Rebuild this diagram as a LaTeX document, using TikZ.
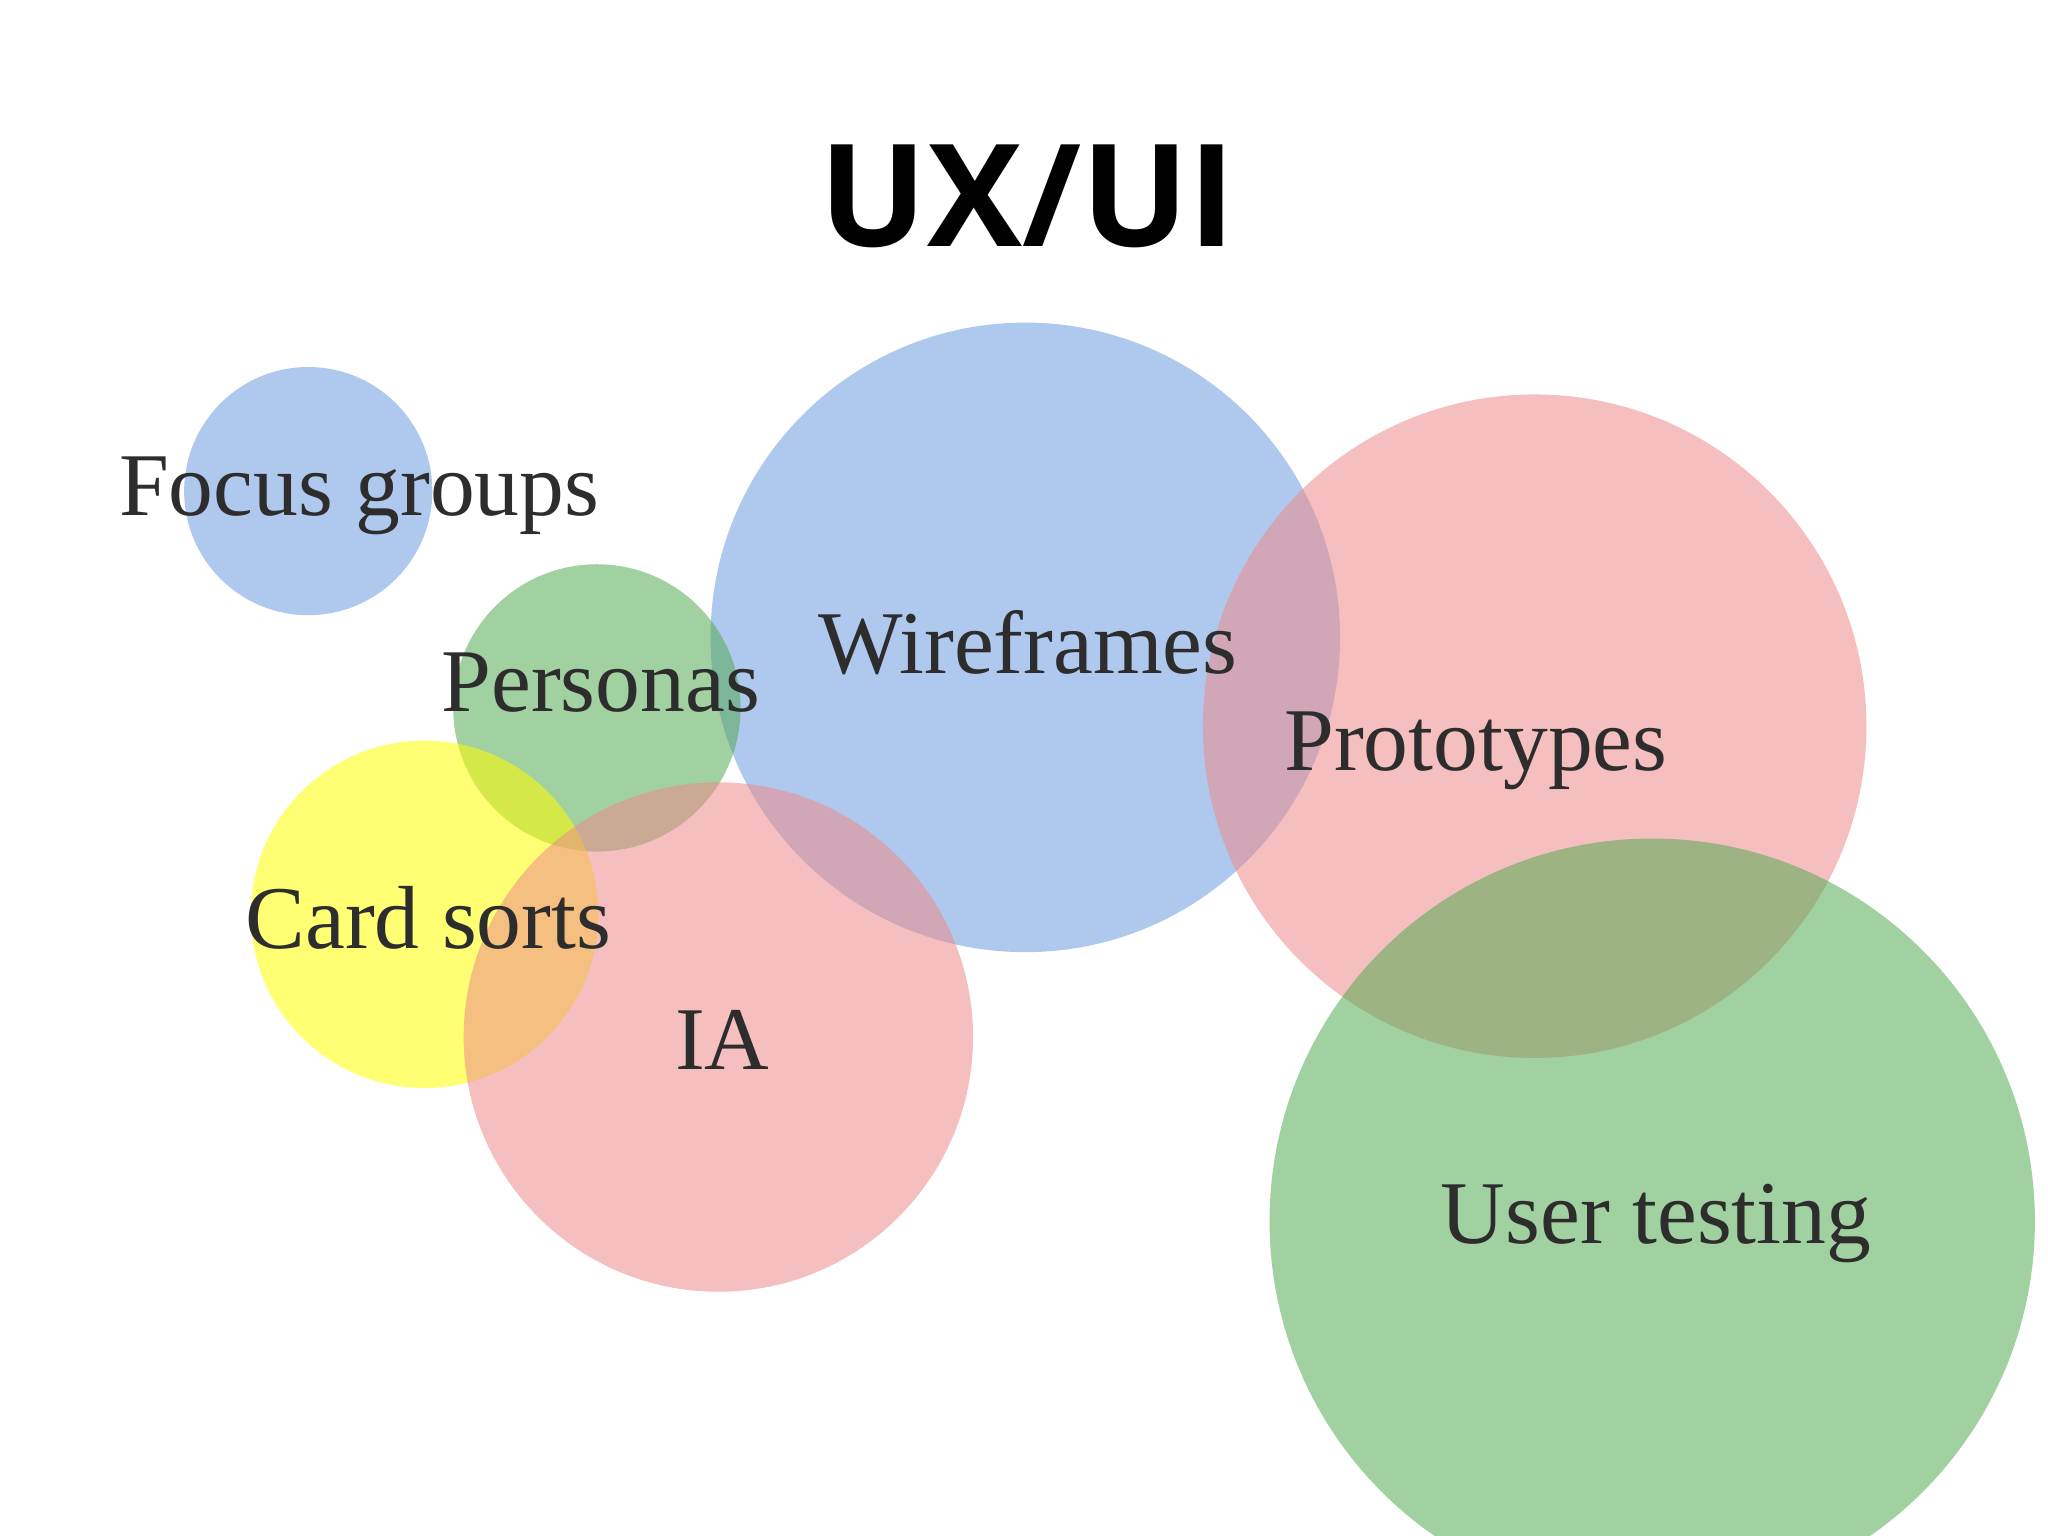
\documentclass[tikz,border=0pt]{standalone}
\usepackage{fontspec}
\setmainfont{Liberation Serif}
\newfontfamily\titlefont{Open Sans}
\definecolor{cblue}{RGB}{110,155,225}
\definecolor{cpink}{RGB}{238,140,140}
\definecolor{cgreen}{RGB}{85,170,85}
\definecolor{cyellow}{RGB}{255,255,0}
\definecolor{txt}{RGB}{45,45,45}
\begin{document}
\begin{tikzpicture}[x=0.01cm,y=-0.01cm,
  bub/.style={fill opacity=0.55,draw=none},
  lab/.style={text=txt,font=\fontsize{19.5}{22}\selectfont}]
\useasboundingbox (0,0) rectangle (1568,1176);
\clip (0,0) rectangle (1568,1176);
\fill[white] (0,0) rectangle (1568,1176);
\node[font=\titlefont\bfseries\fontsize{31}{36}\selectfont] (title) at (787,150) {UX/UI};
\fill[bub,cblue] (236,376) circle (95);
\fill[bub,cblue] (785,488) circle (241);
\fill[bub,cpink] (1175,556) circle (254);
\fill[bub,cgreen] (457,542) circle (110);
\fill[bub,cyellow] (325,700) circle (133);
\fill[bub,cpink] (550,794) circle (195);
\fill[bub,cgreen] (1265,935) circle (293);
\node[lab] (fg) at (275,380) {Focus groups};
\node[lab] (pe) at (460,523) {Personas};
\node[lab] (wf) at (787,492) {Wireframes};
\node[lab] (pt) at (1130,575) {Prototypes};
\node[lab] (cs) at (328,703) {Card sorts};
\node[lab] (ia) at (553,796) {IA};
\node[lab] (ut) at (1268,937) {User testing};
\end{tikzpicture}
\end{document}
